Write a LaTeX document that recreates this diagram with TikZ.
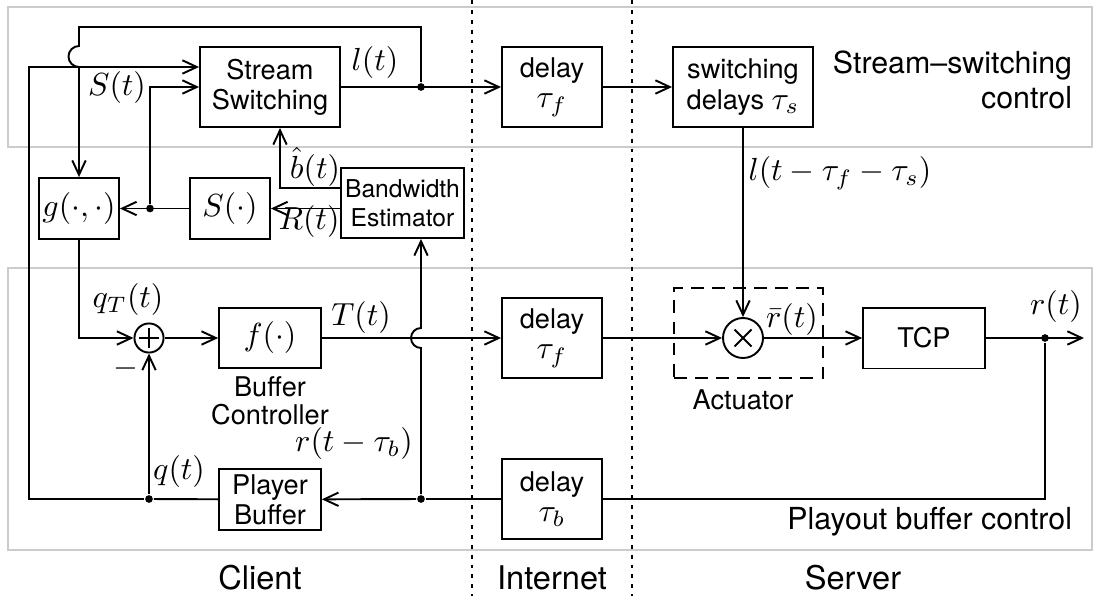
\documentclass[tikz,border=0pt]{standalone}
\usepackage[no-math]{fontspec}
\setsansfont{TeX Gyre Heros}
\usetikzlibrary{arrows.meta}
\DeclareMathSizes{8.5}{10}{7}{5}

\tikzset{
  >={Straight Barb[length=4.5pt,width=4.2pt]},
  blk/.style={draw, semithick, align=center, inner sep=0pt,
    font=\sffamily\fontsize{8.5}{9.5}\selectfont},
  band/.style={draw=gray!40, line width=0.9pt},
  sep/.style={line width=0.6pt, dash pattern=on 1.2pt off 1.9pt},
  jn/.style={circle, fill, inner sep=0pt, minimum size=2.4pt},
  lbl/.style={inner sep=0pt, align=right, font=\sffamily\fontsize{9.5}{10.8}\selectfont},
  side/.style={inner sep=0pt, font=\sffamily\fontsize{10.2}{12}\selectfont},
  sig/.style={inner sep=0pt},
}

\begin{document}
\begin{tikzpicture}[x=0.11cm, y=-0.11cm, semithick]
    \useasboundingbox (0,0) rectangle (109.4,59.6);
    \draw[band] (0.8,0.7) rectangle (109.2,14.7);
    \draw[band] (0.8,26.8) rectangle (109.2,55.0);
    \draw[sep] (47.2,0) -- (47.2,59.6);
    \draw[sep] (63.2,0) -- (63.2,59.6);

    % blocks
    \node[blk, minimum width=1.54cm, minimum height=0.88cm] (sw)    at (27,8.7)     {Stream\\Switching};
    \node[blk, minimum width=1.1cm,  minimum height=0.88cm] (dlyf1) at (55.2,8.7)   {delay\\$\tau_f$};
    \node[blk, minimum width=1.54cm, minimum height=0.88cm] (swdly) at (74.3,8.7)   {switching\\delays $\tau_s$};
    \node[blk, minimum width=0.88cm, minimum height=0.67cm] (g)     at (7.9,20.85)  {$g(\cdot,\cdot)$};
    \node[blk, minimum width=0.88cm, minimum height=0.67cm] (S)     at (23,20.85)   {$S(\cdot)$};
    \node[blk, minimum width=1.353cm, minimum height=0.77cm,
          font=\sffamily\fontsize{7.7}{9}\selectfont]      (be)    at (40.25,20.3) {Bandwidth\\Estimator};
    \node[circle, draw, inner sep=0pt, minimum size=0.32cm,
          path picture={
            \draw[line width=0.9pt] ([xshift=-1.1mm]path picture bounding box.center) -- ([xshift=1.1mm]path picture bounding box.center);
            \draw[line width=0.9pt] ([yshift=-1.1mm]path picture bounding box.center) -- ([yshift=1.1mm]path picture bounding box.center);
          }]                                               (sum)   at (14.9,33.8)  {};
    \node[blk, minimum width=1.12cm, minimum height=0.66cm] (f)     at (27,33.8)    {$f(\cdot)$};
    \node[blk, minimum width=1.1cm,  minimum height=0.88cm] (dlyf2) at (55.2,33.8)  {delay\\$\tau_f$};
    \node[circle, draw, inner sep=0pt, minimum size=0.44cm,
          path picture={
            \draw ([shift={(-0.85,-0.85)}]path picture bounding box.center) -- ([shift={(0.85,0.85)}]path picture bounding box.center);
            \draw ([shift={(-0.85,0.85)}]path picture bounding box.center) -- ([shift={(0.85,-0.85)}]path picture bounding box.center);
          }]                                               (mul)   at (74.3,33.8)  {};
    \node[draw, dash pattern=on 4pt off 2.6pt, minimum width=1.64cm, minimum height=0.99cm] (act) at (74.85,33.3) {};
    \node[blk, minimum width=1.34cm, minimum height=0.67cm] (tcp)   at (92.4,33.8)  {TCP};
    \node[blk, minimum width=1.1cm,  minimum height=0.88cm] (dlyb)  at (55.2,49.9)  {delay\\$\tau_b$};
    \node[blk, minimum width=1.12cm, minimum height=0.67cm] (pb)    at (27,49.95)   {Player\\Buffer};

    % branch points
    \node[jn] (ljn) at (42.1,8.7) {};
    \node[jn] (sjn) at (15,20.85) {};
    \node[jn] (qjn) at (14.9,49.9) {};
    \node[jn] (rjn) at (42.1,49.9) {};
    \node[jn] (tjn) at (104.5,33.8) {};
    \coordinate (ltop) at (7.9,2.7);
    \coordinate (qtop) at (2.9,6.7);
    \coordinate (bhat) at (28,18.8);
    \coordinate (rout) at (108.4,33.8);

    % stream switching loop
    \draw[->] (sw) -- (dlyf1);
    \draw[->] (dlyf1) -- (swdly);
    \draw[->] (ljn) -- (ljn |- ltop) -- (ltop) -- ++(0,1.9)
        arc[start angle=270, end angle=90, radius=1.05] -- (g.north);
    \draw[->] (qjn) -| (qtop) -- (sw.west |- qtop);
    \draw[->] (S) -- (g);
    \draw[->] (sjn) |- (sw.west);
    \draw[->] (be.west |- S.east) -- (S.east);
    \draw[->] (be.west |- bhat) -- (bhat) -- (bhat |- sw.south);
    \draw[->] (swdly) -- (mul);

    % playout buffer loop
    \draw[->] (g) |- (sum);
    \draw[->] (sum) -- (f);
    \draw[->] (f) -- (dlyf2);
    \draw[->] (dlyf2) -- (mul);
    \draw[->] (mul) -- (tcp);
    \draw[->] (tcp) -- (rout);
    \draw (tjn) |- (dlyb);
    \draw (dlyb) -- (rjn);
    \draw[->] (rjn) -- (pb);
    \draw[->] (rjn) -- ++(0,-15.1)
        arc[start angle=90, end angle=270, radius=1] -- (be.south -| rjn);
    \draw (pb) -- (qjn);
    \draw[->] (qjn) -- (sum);

    % signals
    \node[sig] (lt)    at (37.5,6.3)  {$l(t)$};
    \node[sig] (st)    at (11.7,8.8)  {$S(t)$};
    \node[sig] (bt)    at (31.5,16.7) {$\hat{b}(t)$};
    \node[sig] (Rt)    at (30.9,22.2) {$R(t)$};
    \node[sig] (ldel)  at (84,17.3)   {$l(t-\tau_f-\tau_s)$};
    \node[sig] (qTt)   at (12.8,30)   {$q_T(t)$};
    \node[sig] (Tt)    at (36.1,31.8) {$T(t)$};
    \node[sig] (minus) at (12.6,36.9) {$-$};
    \node[sig] (qt)    at (17.9,47.2) {$q(t)$};
    \node[sig] (rdel)  at (35.4,44.4) {$r(t-\tau_b)$};
    \node[sig] (rbar)  at (79.2,32)   {$\bar{r}(t)$};
    \node[sig] (rt)    at (105.6,30.7) {$r(t)$};

    % captions
    \node[blk, draw=none, font=\sffamily\fontsize{8.5}{8.7}\selectfont] (bctl) at (27,40.1) {Buffer\\Controller};
    \node[blk, draw=none] (actl) at (74.3,40) {Actuator};
    \node[lbl, anchor=east] (sscl) at (107.3,8)    {Stream--switching\\control};
    \node[lbl, anchor=east] (pbcl) at (107.3,52.2) {Playout buffer control};
    \node[side] (client)   at (26,57.8)   {Client};
    \node[side] (internet) at (55.2,57.8) {Internet};
    \node[side] (server)   at (85.3,57.8) {Server};
\end{tikzpicture}
\end{document}
